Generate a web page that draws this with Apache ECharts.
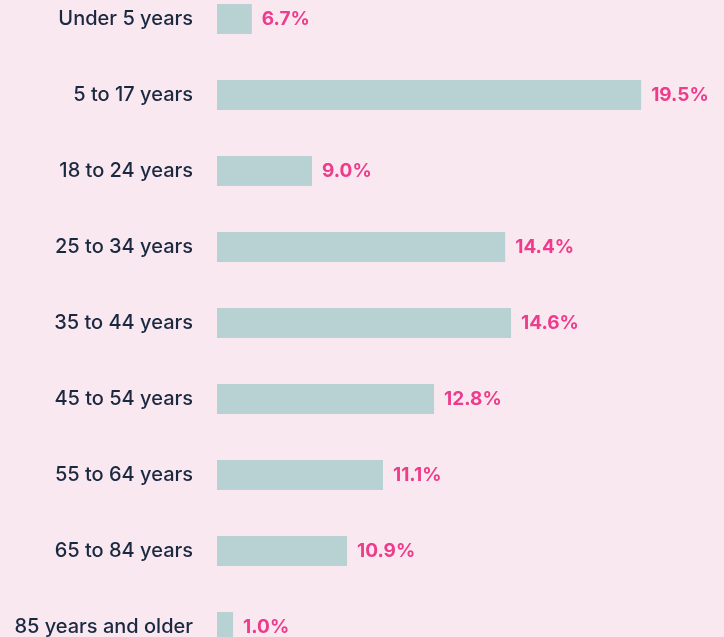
<!DOCTYPE html>
<html>
<head>
<meta charset="utf-8">
<script src="https://cdn.jsdelivr.net/npm/echarts@6/dist/echarts.min.js"></script>
<style>
  html, body { margin: 0; padding: 0; background: #fae8f0; }
  #chart { width: 724px; height: 637px; }
</style>
</head>
<body>
<div id="chart"></div>
<script>
const ageGroups = ['Under 5 years', '5 to 17 years', '18 to 24 years', '25 to 34 years', '35 to 44 years',
  '45 to 54 years', '55 to 64 years', '65 to 84 years', '85 years and older']
// printed shares
const shares = [6.7, 19.5, 9.0, 14.4, 14.6, 12.8, 11.1, 10.9, 1.0]
// bar lengths as drawn in the source (not to scale with the printed shares)
const barLength = [1.6, 19.5, 4.37, 13.25, 13.52, 9.98, 7.63, 5.98, 0.74]

const chart = echarts.init(document.getElementById('chart'))
chart.setOption({
  backgroundColor: '#fae8f0',
  animation: false,
  grid: {
    left: 217,
    width: 435,
    top: 19,
    bottom: 10
  },
  xAxis: {
    type: 'value',
    min: 0,
    max: 20,
    show: false
  },
  yAxis: {
    type: 'category',
    inverse: true,
    boundaryGap: false,
    data: ageGroups,
    axisLine: { show: false },
    axisTick: { show: false },
    splitLine: { show: false },
    axisLabel: {
      margin: 24,
      color: '#1a2940',
      fontFamily: 'Inter',
      fontWeight: 500,
      fontSize: 20
    }
  },
  series: [{
    type: 'bar',
    barWidth: 30,
    itemStyle: { color: '#b8d1d2' },
    label: {
      show: true,
      position: 'right',
      distance: 10,
      color: '#ee3b8b',
      fontFamily: 'Inter',
      fontWeight: 'bold',
      fontSize: 19,
      formatter(p) {
        return shares[p.dataIndex].toFixed(1) + '%'
      }
    },
    data: barLength
  }]
})
</script>
</body>
</html>
